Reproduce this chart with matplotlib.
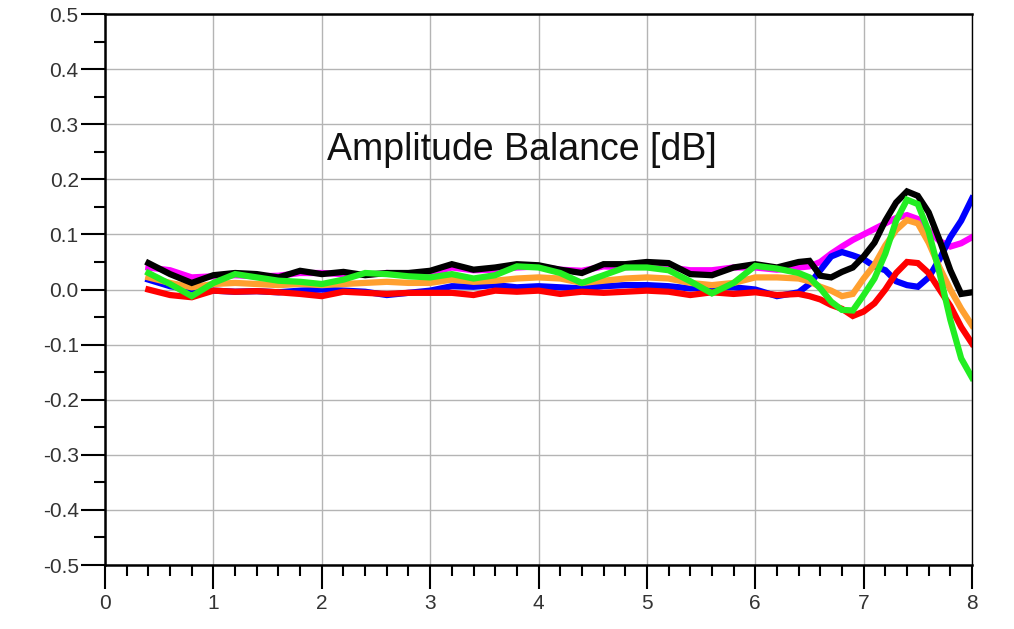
import numpy as np
import matplotlib
matplotlib.use("Agg")
import matplotlib.pyplot as plt
from matplotlib.ticker import MultipleLocator

########################################
#   Data
########################################

freq = [0.4, 0.6, 0.8, 1.0, 1.2, 1.4, 1.6, 1.8, 2.0, 2.2, 2.4, 2.6, 2.8, 3.0,
        3.2, 3.4, 3.6, 3.8, 4.0, 4.2, 4.4, 4.6, 4.8, 5.0, 5.2, 5.4, 5.6, 5.8,
        6.0, 6.2, 6.4, 6.5, 6.6, 6.7, 6.8, 6.9, 7.0, 7.1, 7.2, 7.3, 7.4, 7.5,
        7.6, 7.7, 7.8, 7.9, 8.0]

magenta = [0.040, 0.035, 0.022, 0.024, 0.026, 0.024, 0.025, 0.030, 0.030, 0.028,
           0.027, 0.030, 0.028, 0.030, 0.040, 0.035, 0.036, 0.040, 0.042, 0.036,
           0.034, 0.042, 0.040, 0.045, 0.040, 0.035, 0.035, 0.040, 0.040, 0.036,
           0.040, 0.042, 0.050, 0.065, 0.078, 0.090, 0.100, 0.110, 0.120, 0.130,
           0.135, 0.128, 0.108, 0.088, 0.078, 0.084, 0.095]

blue = [0.018, 0.006, 0.000, -0.002, -0.004, -0.003, -0.005, -0.002, 0.000, -0.002,
        -0.004, -0.010, -0.006, -0.002, 0.006, 0.005, 0.008, 0.004, 0.006, 0.004,
        0.002, 0.006, 0.008, 0.008, 0.006, 0.002, 0.004, 0.004, 0.000, -0.012,
        -0.005, 0.010, 0.035, 0.060, 0.068, 0.062, 0.055, 0.042, 0.035, 0.015,
        0.008, 0.005, 0.022, 0.055, 0.095, 0.125, 0.165]

red = [0.000, -0.010, -0.014, -0.002, -0.004, -0.003, -0.005, -0.008, -0.012, -0.004,
       -0.006, -0.008, -0.006, -0.006, -0.006, -0.010, -0.002, -0.004, -0.002, -0.008,
       -0.004, -0.006, -0.004, -0.002, -0.004, -0.010, -0.005, -0.008, -0.005, -0.010,
       -0.008, -0.012, -0.018, -0.028, -0.035, -0.048, -0.040, -0.025, 0.000, 0.030,
       0.050, 0.048, 0.030, 0.000, -0.030, -0.068, -0.098]

orange = [0.022, 0.012, 0.004, 0.010, 0.012, 0.010, 0.008, 0.010, 0.008, 0.010,
          0.012, 0.014, 0.012, 0.012, 0.018, 0.014, 0.016, 0.020, 0.022, 0.020,
          0.012, 0.016, 0.020, 0.022, 0.020, 0.012, 0.008, 0.012, 0.022, 0.022,
          0.020, 0.015, 0.005, -0.002, -0.012, -0.008, 0.020, 0.045, 0.080, 0.108,
          0.126, 0.120, 0.085, 0.040, 0.000, -0.035, -0.065]

black = [0.048, 0.028, 0.012, 0.026, 0.030, 0.028, 0.022, 0.034, 0.028, 0.032,
         0.026, 0.030, 0.030, 0.034, 0.046, 0.036, 0.040, 0.046, 0.044, 0.036,
         0.030, 0.046, 0.046, 0.050, 0.048, 0.028, 0.026, 0.040, 0.046, 0.040,
         0.050, 0.052, 0.025, 0.022, 0.032, 0.040, 0.060, 0.085, 0.125, 0.158,
         0.178, 0.170, 0.140, 0.090, 0.035, -0.008, -0.005]

green = [0.030, 0.010, -0.012, 0.012, 0.028, 0.022, 0.016, 0.014, 0.010, 0.018,
         0.030, 0.028, 0.024, 0.022, 0.028, 0.020, 0.026, 0.042, 0.040, 0.030,
         0.012, 0.026, 0.040, 0.040, 0.035, 0.015, -0.007, 0.012, 0.043, 0.038,
         0.030, 0.022, 0.002, -0.022, -0.037, -0.038, -0.010, 0.020, 0.065, 0.125,
         0.163, 0.155, 0.105, 0.030, -0.055, -0.125, -0.160]

series = [magenta, blue, red, orange, black, green]
colors = ["#ff00ff", "#0000ff", "#ff0000", "#ffa030", "#000000", "#22ee22"]

title = "Amplitude Balance [dB]"

########################################
#   Plot
########################################

plt.rcParams['font.family'] = ['Liberation Sans', 'DejaVu Sans']

fig = plt.figure(figsize=(10.14, 6.29), dpi=100)
ax = fig.add_axes([0.1036, 0.1017, 0.855, 0.8760])

for vals, col in zip(series, colors):
    ax.plot(freq, vals, color=col, linewidth=4.5, solid_joinstyle='miter')

ax.set_xlim(0, 8)
ax.set_ylim(-0.5, 0.5)
ax.xaxis.set_major_locator(MultipleLocator(1))
ax.xaxis.set_minor_locator(MultipleLocator(0.2))
ax.yaxis.set_major_locator(MultipleLocator(0.1))
ax.yaxis.set_minor_locator(MultipleLocator(0.05))
ax.yaxis.set_major_formatter(plt.FuncFormatter(lambda v, p: '{:.1f}'.format(v)))

ax.grid(which='major', color='#b4b4b4', linewidth=1)
ax.set_axisbelow(True)

ax.tick_params(which='major', direction='out', length=17, width=1.5,
               labelsize=15, labelcolor='#333333')
ax.tick_params(axis='y', which='major', pad=2)
ax.tick_params(axis='x', which='major', pad=4)
ax.tick_params(which='minor', direction='out', length=8, width=1.5)

for side in ['left', 'bottom', 'top']:
    ax.spines[side].set_linewidth(1.8)
ax.spines['right'].set_linewidth(1.0)

ax.text(3.85, 0.235, title, fontsize=27, ha='center', va='baseline', color='#111111')

plt.savefig("out.png")
